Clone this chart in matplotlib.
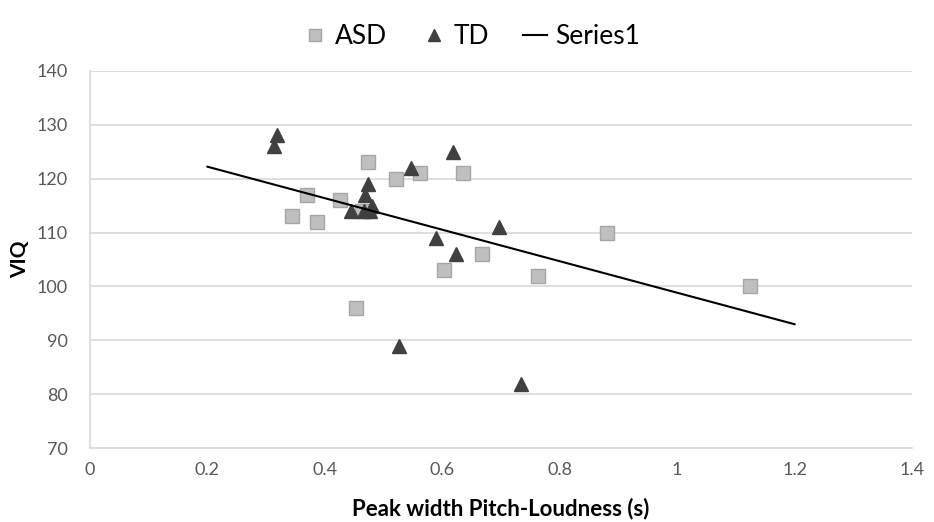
import matplotlib.pyplot as plt

# values
asd_x = [0.344, 0.370, 0.386, 0.425, 0.473, 0.463, 0.521, 0.562, 0.635,
         0.453, 0.603, 0.667, 0.763, 0.881, 1.124]
asd_y = [113, 117, 112, 116, 123, 114, 120, 121, 121, 96, 103, 106, 102, 110, 100]

td_x = [0.319, 0.313, 0.547, 0.618, 0.474, 0.468, 0.445, 0.466, 0.477,
        0.480, 0.697, 0.590, 0.624, 0.526, 0.734]
td_y = [128, 126, 122, 125, 119, 117, 114, 114, 114, 115, 111, 109, 106, 89, 82]

# Series1 (straight line)
line_x = [0.2, 1.2]
line_y = [122.2, 93.0]

x_ticks = [0, 0.2, 0.4, 0.6, 0.8, 1, 1.2, 1.4]
x_labels = ["0", "0.2", "0.4", "0.6", "0.8", "1", "1.2", "1.4"]
y_ticks = [70, 80, 90, 100, 110, 120, 130, 140]

plt.rcParams["font.family"] = ["Lato", "DejaVu Sans"]

fig = plt.figure(figsize=(9.34, 5.22), dpi=100)
ax = fig.add_axes([0.0964, 0.1412, 0.88, 0.7234])

ax.plot(asd_x, asd_y, ls="none", marker="s", ms=10, mfc="#bfbfbf",
        mec="#a6a6a6", mew=1, label="ASD", zorder=3)
ax.plot(td_x, td_y, ls="none", marker="^", ms=10, mfc="#404040",
        mec="#404040", mew=1, label="TD", zorder=4)
ax.plot(line_x, line_y, color="black", lw=1.5, label="Series1", zorder=5)

ax.set_xlim(0, 1.4)
ax.set_ylim(70, 140)
ax.set_xticks(x_ticks)
ax.set_xticklabels(x_labels)
ax.set_yticks(y_ticks)
ax.tick_params(length=0, labelsize=13, labelcolor="#595959")
ax.tick_params(axis="x", pad=10)
ax.tick_params(axis="y", pad=16)

ax.yaxis.grid(True, color="#d9d9d9", lw=1.2)
ax.set_axisbelow(True)
for s in ["top", "right"]:
    ax.spines[s].set_visible(False)
for s in ["left", "bottom"]:
    ax.spines[s].set_color("#d9d9d9")
    ax.spines[s].set_linewidth(1.2)

ax.set_xlabel("Peak width Pitch-Loudness (s)", fontsize=16, fontweight="bold",
              labelpad=14)
ax.set_ylabel("VIQ", fontsize=15, fontweight="bold", labelpad=5)

fig.legend(loc="upper center", bbox_to_anchor=(0.505, 1.0), ncol=3,
           frameon=False, fontsize=19, handlelength=0.9, handletextpad=0.3,
           columnspacing=1.3, markerscale=0.85)

fig.savefig("out.png", dpi=100)
